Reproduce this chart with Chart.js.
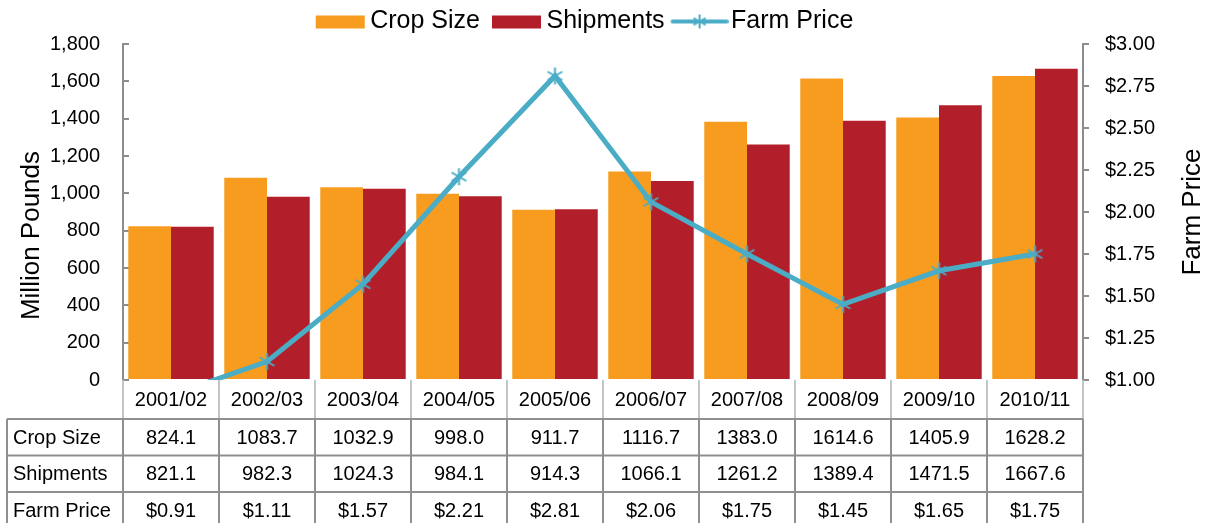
<!DOCTYPE html>
<html lang="en">
<head>
  <meta charset="UTF-8" />
  <title>Crop size, shipments and farm price</title>
  <script src="https://cdn.jsdelivr.net/npm/chart.js"></script>
  <style>
    html, body { margin: 0; padding: 0; background: #fff; }
    #wrap { width: 1207px; height: 523px; }
  </style>
</head>
<body>
  <div id="wrap"><canvas id="myChart" width="1207" height="523"></canvas></div>

  <script>
    const categories = ['2001/02', '2002/03', '2003/04', '2004/05', '2005/06', '2006/07', '2007/08', '2008/09', '2009/10', '2010/11'];
    const cropSize = [824.1, 1083.7, 1032.9, 998.0, 911.7, 1116.7, 1383.0, 1614.6, 1405.9, 1628.2];
    const shipments = [821.1, 982.3, 1024.3, 984.1, 914.3, 1066.1, 1261.2, 1389.4, 1471.5, 1667.6];
    const farmPrice = [0.91, 1.11, 1.57, 2.21, 2.81, 2.06, 1.75, 1.45, 1.65, 1.75];

    const ORANGE = '#F79C1E';
    const RED = '#B21F2A';
    const TEAL = '#4BACC6';
    const FONT = "'Liberation Sans', Arial, sans-serif";

    Chart.defaults.font.family = FONT;
    Chart.defaults.color = '#000';

    // asterisk marker (X + vertical stroke)
    function makeStar(size) {
      const c = document.createElement('canvas');
      c.width = size; c.height = size;
      const g = c.getContext('2d');
      const m = size / 2, r = size / 2 - 1;
      g.strokeStyle = TEAL;
      g.lineWidth = 2;
      g.beginPath();
      g.moveTo(m, m - r); g.lineTo(m, m + r);
      g.moveTo(m - r * 0.87, m - r * 0.5); g.lineTo(m + r * 0.87, m + r * 0.5);
      g.moveTo(m - r * 0.87, m + r * 0.5); g.lineTo(m + r * 0.87, m - r * 0.5);
      g.stroke();
      return c;
    }

    // legend swatch, drawn in the right part of a wider canvas so the gap to the text is small
    function makeSwatch(color, isLine) {
      const c = document.createElement('canvas');
      c.width = 64; c.height = 18;
      const g = c.getContext('2d');
      if (isLine) {
        g.strokeStyle = color;
        g.lineWidth = 4;
        g.lineCap = 'round';
        g.beginPath(); g.moveTo(8, 9); g.lineTo(62, 9); g.stroke();
        g.drawImage(makeStar(16), 27, 1);
      } else {
        g.fillStyle = color;
        g.fillRect(12, 3, 49, 13);
      }
      return c;
    }

    const starImg = makeStar(19);
    const swatches = [makeSwatch(ORANGE, false), makeSwatch(RED, false), makeSwatch(TEAL, true)];

    // axis titles, both reading bottom to top
    const titlePlugin = {
      id: 'axisTitles',
      afterDraw(chart) {
        const { ctx, chartArea } = chart;
        ctx.save();
        ctx.font = '26px ' + FONT;
        ctx.fillStyle = '#000';
        ctx.textAlign = 'center';
        ctx.textBaseline = 'middle';
        ctx.translate(32, chartArea.top + (chartArea.bottom - chartArea.top) * 0.57);
        ctx.rotate(-Math.PI / 2);
        ctx.fillText('Million Pounds', 0, 0);
        ctx.restore();

        ctx.save();
        ctx.font = '26px ' + FONT;
        ctx.fillStyle = '#000';
        ctx.textAlign = 'center';
        ctx.textBaseline = 'middle';
        ctx.translate(1193, chartArea.top + (chartArea.bottom - chartArea.top) * 0.5);
        ctx.rotate(-Math.PI / 2);
        ctx.fillText('Farm Price', 0, 0);
        ctx.restore();
      }
    };

    // data table under the plot, cells placed from the x scale
    const tablePlugin = {
      id: 'dataTable',
      afterDraw(chart) {
        const { ctx, chartArea } = chart;
        const x = chart.scales.x;
        const n = categories.length;
        const w = (chartArea.right - chartArea.left) / n;
        const rows = [
          { label: 'Crop Size', values: cropSize.map(v => v.toFixed(1)) },
          { label: 'Shipments', values: shipments.map(v => v.toFixed(1)) },
          { label: 'Farm Price', values: farmPrice.map(v => '$' + v.toFixed(2)) }
        ];
        const top = chartArea.bottom;
        const headH = 39;
        const rowH = 36.5;
        const leftX = 7;

        ctx.save();
        ctx.font = '20px ' + FONT;
        ctx.textBaseline = 'middle';

        // header cells
        ctx.strokeStyle = '#c4c4c4';
        ctx.lineWidth = 2;
        for (let i = 0; i <= n; i++) {
          const xx = chartArea.left + i * w;
          ctx.beginPath(); ctx.moveTo(xx, top); ctx.lineTo(xx, top + headH); ctx.stroke();
        }
        ctx.fillStyle = '#000';
        ctx.textAlign = 'center';
        categories.forEach((c, i) => ctx.fillText(c, x.getPixelForValue(i), top + headH / 2 + 1));

        // data rows
        ctx.strokeStyle = '#8f8f8f';
        const bodyTop = top + headH;
        const bodyBottom = bodyTop + rowH * rows.length;
        for (let r = 0; r <= rows.length; r++) {
          const yy = bodyTop + r * rowH;
          ctx.beginPath(); ctx.moveTo(leftX, yy); ctx.lineTo(chartArea.right, yy); ctx.stroke();
        }
        ctx.beginPath(); ctx.moveTo(leftX, bodyTop); ctx.lineTo(leftX, bodyBottom); ctx.stroke();
        for (let i = 0; i <= n; i++) {
          const xx = chartArea.left + i * w;
          ctx.beginPath(); ctx.moveTo(xx, bodyTop); ctx.lineTo(xx, bodyBottom); ctx.stroke();
        }
        rows.forEach((row, r) => {
          const cy = bodyTop + r * rowH + rowH / 2 + 1;
          ctx.textAlign = 'left';
          ctx.fillText(row.label, leftX + 6, cy);
          ctx.textAlign = 'center';
          row.values.forEach((v, i) => ctx.fillText(v, x.getPixelForValue(i), cy));
        });
        ctx.restore();
      }
    };

    const ctx = document.getElementById('myChart').getContext('2d');

    const myChart = new Chart(ctx, {
      type: 'bar',
      data: {
        labels: categories,
        datasets: [
          {
            label: 'Crop Size',
            data: cropSize,
            backgroundColor: ORANGE,
            yAxisID: 'y',
            order: 1,
            categoryPercentage: 0.89,
            barPercentage: 1
          },
          {
            label: 'Shipments',
            data: shipments,
            backgroundColor: RED,
            yAxisID: 'y',
            order: 1,
            categoryPercentage: 0.89,
            barPercentage: 1
          },
          {
            type: 'line',
            label: 'Farm Price',
            data: farmPrice,
            borderColor: TEAL,
            backgroundColor: TEAL,
            borderWidth: 5,
            pointStyle: starImg,
            pointRadius: 9,
            tension: 0,
            yAxisID: 'y1',
            order: 0
          }
        ]
      },
      options: {
        responsive: false,
        animation: false,
        layout: { padding: { top: -1, bottom: 143, left: 0, right: 40 } },
        scales: {
          x: {
            ticks: { display: false },
            grid: { display: false },
            border: { display: false },
            afterFit: s => { s.height = 0; }
          },
          y: {
            position: 'left',
            min: 0,
            max: 1800,
            ticks: {
              stepSize: 200,
              padding: 29,
              font: { size: 20 },
              color: '#000',
              callback: v => v.toLocaleString('en-US')
            },
            grid: { drawOnChartArea: false, drawTicks: true, tickLength: -6, color: '#8c8c8c', lineWidth: 2 },
            border: { color: '#8c8c8c', width: 2 },
            afterFit: s => { s.width = 123; }
          },
          y1: {
            position: 'right',
            min: 1,
            max: 3,
            ticks: {
              stepSize: 0.25,
              padding: 16,
              font: { size: 20 },
              color: '#000',
              callback: v => '$' + v.toFixed(2)
            },
            grid: { drawOnChartArea: false, drawTicks: true, tickLength: 6, color: '#8c8c8c', lineWidth: 2 },
            border: { color: '#8c8c8c', width: 2 },
            afterFit: s => { s.width = 84; }
          }
        },
        plugins: {
          legend: {
            position: 'top',
            labels: {
              usePointStyle: true,
              pointStyleWidth: 44,
              padding: 10,
              font: { size: 25 },
              color: '#000',
              generateLabels: chart => chart.data.datasets.map((ds, i) => ({
                text: ds.label,
                pointStyle: swatches[i],
                fillStyle: 'rgba(0,0,0,0)',
                strokeStyle: 'rgba(0,0,0,0)',
                lineWidth: 0,
                hidden: false,
                datasetIndex: i,
                fontColor: '#000'
              }))
            }
          },
          tooltip: { enabled: false }
        }
      },
      plugins: [tablePlugin, titlePlugin]
    });
  </script>
</body>
</html>
